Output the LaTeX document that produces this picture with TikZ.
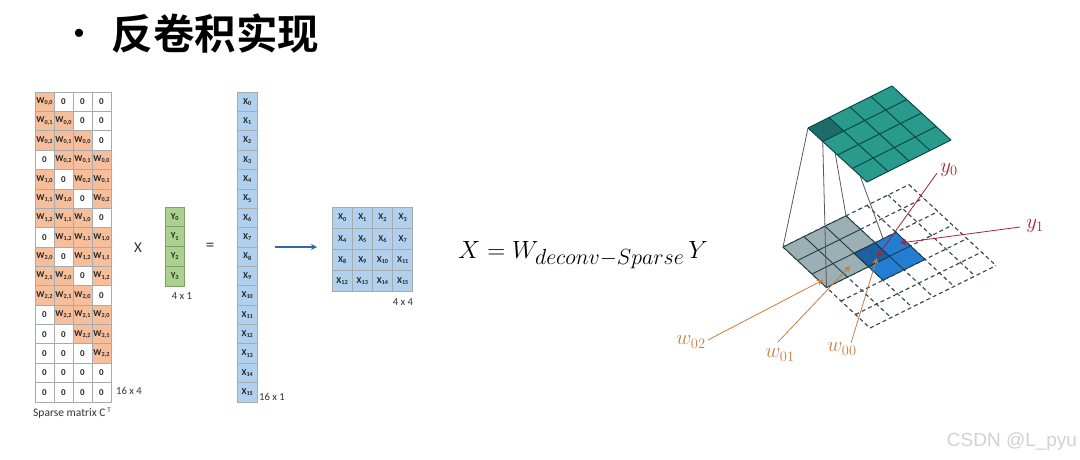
\documentclass[tikz,border=0pt]{standalone}
\usepackage{fontspec}
\usepackage{graphicx}
\setmainfont{Carlito}
\newfontfamily\cjkf{Noto Sans CJK SC}[BoldFont={Noto Sans CJK SC Bold}]
\newfontfamily\wmf{Liberation Sans}
\usetikzlibrary{arrows.meta}
\definecolor{cellorange}{RGB}{247,190,155}
\definecolor{cellblue}{RGB}{176,208,238}
\definecolor{cellgreen}{RGB}{170,209,142}
\definecolor{cellline}{RGB}{165,172,176}
\definecolor{arrowblue}{RGB}{47,105,170}
\definecolor{tealfill}{RGB}{40,155,140}
\definecolor{tealdark}{RGB}{30,108,105}
\definecolor{tealline}{RGB}{14,72,72}
\definecolor{greyfill}{RGB}{155,175,180}
\definecolor{greyline}{RGB}{30,62,68}
\definecolor{bluefill}{RGB}{35,125,210}
\definecolor{bluedark}{RGB}{30,95,160}
\definecolor{dashline}{RGB}{50,75,82}
\definecolor{labred}{RGB}{165,35,50}
\definecolor{laborange}{RGB}{200,125,65}
\def\wsplit#1#2\relax{W{\fontsize{6.2}{6}\selectfont\raisebox{-1.2pt}{#1,#2}}}
\newcommand\xsub[2]{#1{\fontsize{6.2}{6}\selectfont\raisebox{-1.2pt}{#2}}}
% \cellquad{i}{j}{k}{l}: the patch from corner (i,j) to corner (k,l) in the current skew frame
\newcommand\cellquad[4]{(#1,#2) -- (#3,#2) -- (#3,#4) -- (#1,#4) -- cycle}
\tikzset{
  x=1pt,y=-1pt,
  cellbox/.style={draw=cellline,line width=0.7pt,minimum width=#1,inner sep=0pt,font=\fontsize{9}{9}\bfseries\selectfont,text=black!85},
  cellbox/.default=19pt,
  caption/.style={inner sep=0pt,font=\fontsize{10.7}{11}\selectfont,text=black!80},
  mathlab/.style={inner sep=0pt,font=\fontsize{20}{20}\selectfont},
  redarrow/.style={draw=labred,line width=0.8pt,-{Stealth[length=6pt,width=6pt]}},
  orangearrow/.style={draw=laborange,line width=0.8pt,-{Stealth[length=6pt,width=6pt]}},
  conn/.style={draw=black!65,line width=0.8pt},
  tealgrid/.style={draw=tealline,line width=1pt},
  solidgrid/.style={draw=greyline,line width=0.9pt},
  dashgrid/.style={draw=dashline,line width=1.15pt,dash pattern=on 4pt off 3pt},
  tealframe/.style={x={(21pt,10.5pt)},y={(14.75pt,-13.5pt)},shift={(808pt,-128pt)}},
  floorframe/.style={x={(21pt,10.4pt)},y={(14.5pt,-13.5pt)},shift={(783pt,-247pt)}}
}
\begin{document}
\begin{tikzpicture}
\useasboundingbox (0,0) rectangle (1080,459);
% title
\node[inner sep=0pt,font=\cjkf\bfseries\fontsize{32}{32}\selectfont] (bullet) at (79,37) {·};
\node[anchor=west,inner sep=0pt,font=\cjkf\bfseries\fontsize{41.5}{41.5}\selectfont] (title) at (111.5,34) {反卷积实现};
% sparse matrix
\foreach \r/\vals in {0/{00,99,99,99},1/{01,00,99,99},2/{02,01,00,99},3/{99,02,01,00},
  4/{10,99,02,01},5/{11,10,99,02},6/{12,11,10,99},7/{99,12,11,10},
  8/{20,99,12,11},9/{21,20,99,12},10/{22,21,20,99},11/{99,22,21,20},
  12/{99,99,22,21},13/{99,99,99,22},14/{99,99,99,99},15/{99,99,99,99}}{
  \foreach \v [count=\c from 0] in \vals {
    \ifnum\v=99 \def\cc{white}\else\def\cc{cellorange}\fi
    \node[cellbox,fill=\cc,minimum height=19.4pt] (m-\r-\c) at ({44.5+19*\c},{101.7+19.37*\r})
      {\raisebox{-2pt}{\ifnum\v=99 0\else\expandafter\wsplit\v\relax\fi}};
  }
}
\node[caption] (m-size) at (129,391) {16 x 4};
\node[caption,font=\fontsize{11.5}{12}\selectfont] (m-cap) at (72,413) {Sparse matrix C\,\raisebox{4pt}{\fontsize{7}{7}\selectfont T}};
\node[font=\fontsize{15}{15}\selectfont,inner sep=0pt,text=black!80] (times) at (138,248) {X};
% y vector
\foreach \t [count=\i from 0] in {0,1,2,3}{
  \node[cellbox=19.5pt,fill=cellgreen,draw=cellgreen!75!black,minimum height=19.75pt] (y-\i) at (174.7,{216.9+19.75*\i}) {\raisebox{-2pt}{\xsub{Y}{\t}}};
}
\node[caption] (y-size) at (182,296) {4 x 1};
\node[font=\fontsize{17}{17}\selectfont,inner sep=0pt,text=black!80] (equals) at (210,247) {=};
% x vector
\foreach \i in {0,...,15}{
  \node[cellbox=19.5pt,fill=cellblue,minimum height=19.4pt] (x-\i) at (247.2,{101.7+19.37*\i}) {\raisebox{-2pt}{\xsub{X}{\i}}};
}
\node[caption] (x-size) at (272,397) {16 x 1};
% arrow
\coordinate (arr-a) at (275,247);
\coordinate (arr-b) at (317,247);
\draw[draw=arrowblue,line width=1.1pt,-{Stealth[length=6pt,width=6pt]}] (arr-a) -- (arr-b);
% 4x4
\foreach \i in {0,...,15}{
  \pgfmathtruncatemacro\rr{\i/4}
  \pgfmathtruncatemacro\cc{\i-4*\rr}
  \node[cellbox=20.2pt,fill=cellblue,minimum height=21.2pt] (q-\i) at ({342.1+20.2*\cc},{217.6+21.2*\rr}) {\raisebox{-2pt}{\xsub{X}{\i}}};
}
\node[caption] (q-size) at (403,302) {4 x 4};
% formula
\node[anchor=base west,inner sep=0pt,font=\fontsize{26}{26}\selectfont] (formula) at (458,258)
  {$X = W_{\scalebox{1.27}{$\scriptstyle deconv-Sparse$}}\,Y$};
% grid corners
\begin{scope}[tealframe]
  \coordinate (t-a) at (0,0);
  \coordinate (t-b) at (1,0);
  \coordinate (t-c) at (1,1);
  \coordinate (t-d) at (0,1);
\end{scope}
\begin{scope}[floorframe]
  \coordinate (g-a) at (0,0);
  \coordinate (g-b) at (3,0);
  \coordinate (g-c) at (3,3);
  \coordinate (g-d) at (0,3);
  \foreach \i in {0,...,6}{
    \draw[dashgrid] (\i,0) -- (\i,6);
    \draw[dashgrid] (0,\i) -- (6,\i);
  }
\end{scope}
\draw[conn] (t-b) -- (g-b);
\draw[conn] (t-c) -- (g-c);
\begin{scope}[floorframe]
  \fill[bluefill] \cellquad{2}{2}{4}{4};
  \fill[greyfill] \cellquad{0}{0}{3}{3};
  \fill[bluedark] \cellquad{2}{2}{3}{3};
  \foreach \i in {2,3,4}{
    \draw[solidgrid] (\i,2) -- (\i,4);
    \draw[solidgrid] (2,\i) -- (4,\i);
  }
  \foreach \i in {0,1,2,3}{
    \draw[solidgrid] (\i,0) -- (\i,3);
    \draw[solidgrid] (0,\i) -- (3,\i);
  }
\end{scope}
\draw[conn] (t-a) -- (g-a);
\draw[conn] (t-d) -- (g-d);
\begin{scope}[tealframe]
  \fill[tealfill] \cellquad{0}{0}{4}{4};
  \fill[tealdark] \cellquad{0}{0}{1}{1};
  \foreach \i in {0,...,4}{
    \draw[tealgrid] (\i,0) -- (\i,4);
    \draw[tealgrid] (0,\i) -- (4,\i);
  }
\end{scope}
% labels and their arrows
\node[mathlab,text=labred] (l-y0) at (949,170) {$y_0$};
\node[mathlab,text=labred] (l-y1) at (1035,226) {$y_1$};
\node[mathlab,text=laborange] (l-w02) at (691,342) {$w_{02}$};
\node[mathlab,text=laborange] (l-w01) at (780,355) {$w_{01}$};
\node[mathlab,text=laborange] (l-w00) at (842,349) {$w_{00}$};
\coordinate (a-y0) at (937,173); \coordinate (b-y0) at (877,257);
\coordinate (a-y1) at (1020,227); \coordinate (b-y1) at (900,243);
\coordinate (a-w02) at (708,340); \coordinate (b-w02) at (823,280);
\coordinate (a-w01) at (778,342); \coordinate (b-w01) at (850,266);
\coordinate (a-w00) at (851,343); \coordinate (b-w00) at (877,258);
\draw[orangearrow] (a-w02) -- (b-w02);
\draw[orangearrow] (a-w01) -- (b-w01);
\draw[orangearrow] (a-w00) -- (b-w00);
\draw[redarrow] (a-y0) -- (b-y0);
\draw[redarrow] (a-y1) -- (b-y1);
% watermark
\node[inner sep=0pt,font=\wmf\fontsize{19}{19}\selectfont,text=black!18] (wm) at (1012,442) {CSDN @L\_pyu};
\end{tikzpicture}
\end{document}
